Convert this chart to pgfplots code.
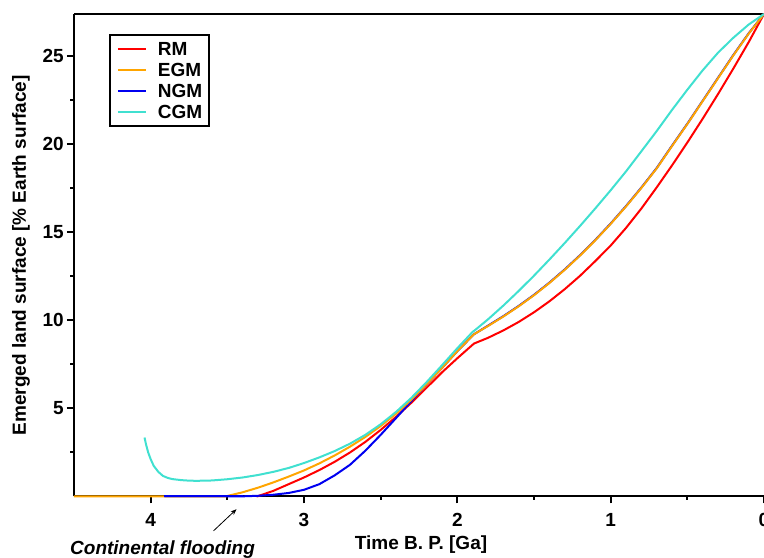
\documentclass[border=0pt]{standalone}
\usepackage{fontspec}
\setmainfont{Liberation Sans}
\usepackage{pgfplots}
\pgfplotsset{compat=1.18}
\usetikzlibrary{arrows.meta}
\definecolor{rmred}{RGB}{255,0,0}
\definecolor{egmorange}{RGB}{255,165,0}
\definecolor{ngmblue}{RGB}{0,0,240}
\definecolor{cgmcyan}{RGB}{64,224,208}
\newcommand{\bigbf}{\fontsize{19}{19}\selectfont\bfseries}
\begin{document}
\begin{tikzpicture}
\begin{axis}[
  scale only axis, width=690pt, height=482.5pt,
  x dir=reverse, xmin=0, xmax=4.5, ymin=0, ymax=27.4,
  axis x line*=box, axis y line*=left,
  xtick={0,1,2,3,4}, minor xtick={0.5,1.5,2.5,3.5},
  ytick={5,10,15,20,25}, minor ytick={2.5,7.5,12.5,17.5,22.5},
  xtick pos=left, ytick pos=left,
  tick align=outside,
  major tick length=7pt, minor tick length=3.5pt,
  major tick style={black, line width=2pt},
  minor tick style={black, line width=2pt},
  axis line style={line width=2pt, black},
  /pgf/number format/assume math mode=true,
  ticklabel style={font=\bigbf},
  xticklabel style={inner sep=0pt, yshift=-10pt},
  yticklabel style={inner sep=3pt},
  xlabel={Time B. P. [Ga]},
  ylabel={Emerged land surface [\% Earth surface]},
  every axis x label/.style={at={([xshift=2pt,yshift=-53pt]axis description cs:0.5,0)}, anchor=base, font=\bigbf},
  every axis y label/.style={at={([xshift=-48pt]axis description cs:0,0.5)}, anchor=base, rotate=90, font=\bigbf},
  clip=false,
  legend cell align=left,
  legend image code/.code={\draw[#1] (0pt,0pt) -- (28pt,0pt);},
  legend style={at={(axis description cs:0.0507,0.9585)}, anchor=north west,
    draw=black, line width=2pt, inner xsep=7pt, inner ysep=3pt,
    font=\bigbf, row sep=0pt,
    nodes={inner xsep=0pt, inner ysep=2.1pt, text height=15pt, text depth=2pt},
    /tikz/every odd column/.append style={column sep=11pt}},
  every axis plot/.append style={line width=2pt, line join=round},
]
% RM
\addplot[rmred] coordinates {
(3.31,0) (3.3,0.02) (3.2,0.32) (3.1,0.70) (3.0,1.08) (2.9,1.50) (2.8,1.97)
(2.7,2.50) (2.6,3.10) (2.5,3.78) (2.4,4.52) (2.3,5.32) (2.2,6.18) (2.1,7.05)
(2.0,7.85) (1.9,8.62) (1.89,8.69) (1.8,9.01) (1.7,9.43) (1.6,9.91) (1.5,10.46)
(1.4,11.08) (1.3,11.77) (1.2,12.53) (1.1,13.37) (1.0,14.25) (0.9,15.25) (0.8,16.35)
(0.7,17.55) (0.6,18.8) (0.5,20.1) (0.4,21.45) (0.3,22.85) (0.2,24.3) (0.1,25.8)
(0,27.4)};
\addlegendentry{RM}
% NGM (drawn under EGM)
\addplot[ngmblue, forget plot] coordinates {
(3.91,0) (3.5,0) (3.4,0.01) (3.3,0.04) (3.2,0.1) (3.1,0.2) (3.0,0.38) (2.9,0.7)
(2.8,1.2) (2.7,1.8) (2.6,2.6) (2.5,3.5) (2.4,4.45) (2.3,5.42) (2.2,6.38) (2.1,7.3)
(2.0,8.25) (1.9,9.14) (1.89,9.22) (1.8,9.70) (1.7,10.24) (1.6,10.82) (1.5,11.45)
(1.4,12.14) (1.3,12.89) (1.2,13.70) (1.1,14.57) (1.0,15.50) (0.9,16.49) (0.8,17.54)
(0.7,18.65) (0.6,19.92) (0.5,21.17) (0.4,22.47) (0.3,23.77) (0.2,25.07) (0.1,26.3)
(0,27.4)};
% EGM
\addplot[egmorange] coordinates {
(4.5,0) (3.52,0) (3.5,0.03) (3.4,0.24) (3.3,0.50) (3.2,0.80) (3.1,1.13) (3.0,1.48)
(2.9,1.88) (2.8,2.33) (2.7,2.83) (2.6,3.38) (2.5,4.0) (2.4,4.7) (2.3,5.5) (2.2,6.38)
(2.1,7.3) (2.0,8.25) (1.9,9.14) (1.89,9.22) (1.8,9.68) (1.7,10.22) (1.6,10.80)
(1.5,11.43) (1.4,12.12) (1.3,12.87) (1.2,13.68) (1.1,14.55) (1.0,15.48) (0.9,16.47)
(0.8,17.52) (0.7,18.63) (0.6,19.9) (0.5,21.15) (0.4,22.45) (0.3,23.75) (0.2,25.05)
(0.1,26.28) (0,27.4)};
\addlegendentry{EGM}
% NGM legend entry and its flat part on top
\addplot[ngmblue] coordinates {(3.91,0) (3.40,0)};
\addlegendentry{NGM}
% CGM
\addplot[cgmcyan] coordinates {
(4.04,3.35) (4.03,2.95) (4.016,2.5) (4.0,2.12) (3.98,1.74) (3.95,1.4) (3.92,1.17)
(3.89,1.06) (3.86,0.99) (3.8,0.93) (3.75,0.9) (3.7,0.89) (3.6,0.91) (3.5,0.98)
(3.4,1.08) (3.3,1.22) (3.2,1.4) (3.1,1.62) (3.0,1.9) (2.9,2.22) (2.8,2.58) (2.7,3.0)
(2.6,3.5) (2.5,4.1) (2.4,4.8) (2.3,5.6) (2.2,6.5) (2.1,7.45) (2.0,8.42) (1.9,9.35)
(1.89,9.41) (1.8,10.06) (1.7,10.84) (1.6,11.67) (1.5,12.54) (1.4,13.45) (1.3,14.39)
(1.2,15.36) (1.1,16.36) (1.0,17.39) (0.9,18.46) (0.8,19.6) (0.7,20.75) (0.6,21.95)
(0.5,23.1) (0.4,24.2) (0.3,25.2) (0.2,26.05) (0.1,26.8) (0,27.4)};
\addlegendentry{CGM}
\node[anchor=base west, font=\fontsize{19}{19}\selectfont\bfseries\itshape, inner sep=0pt]
  at ([xshift=-4pt,yshift=-58pt]axis description cs:0,0) {Continental flooding};
\draw[-{Stealth[length=6pt,width=4.5pt]}, line width=0.8pt, black]
  (axis cs:3.59,-1.95) -- (axis cs:3.44,-0.72);
\end{axis}
\pgfresetboundingbox
\path[use as bounding box] ([shift={(-74pt,-61.5pt)}]current axis.south west) rectangle ([shift={(0pt,14pt)}]current axis.north east);
\end{tikzpicture}
\end{document}
